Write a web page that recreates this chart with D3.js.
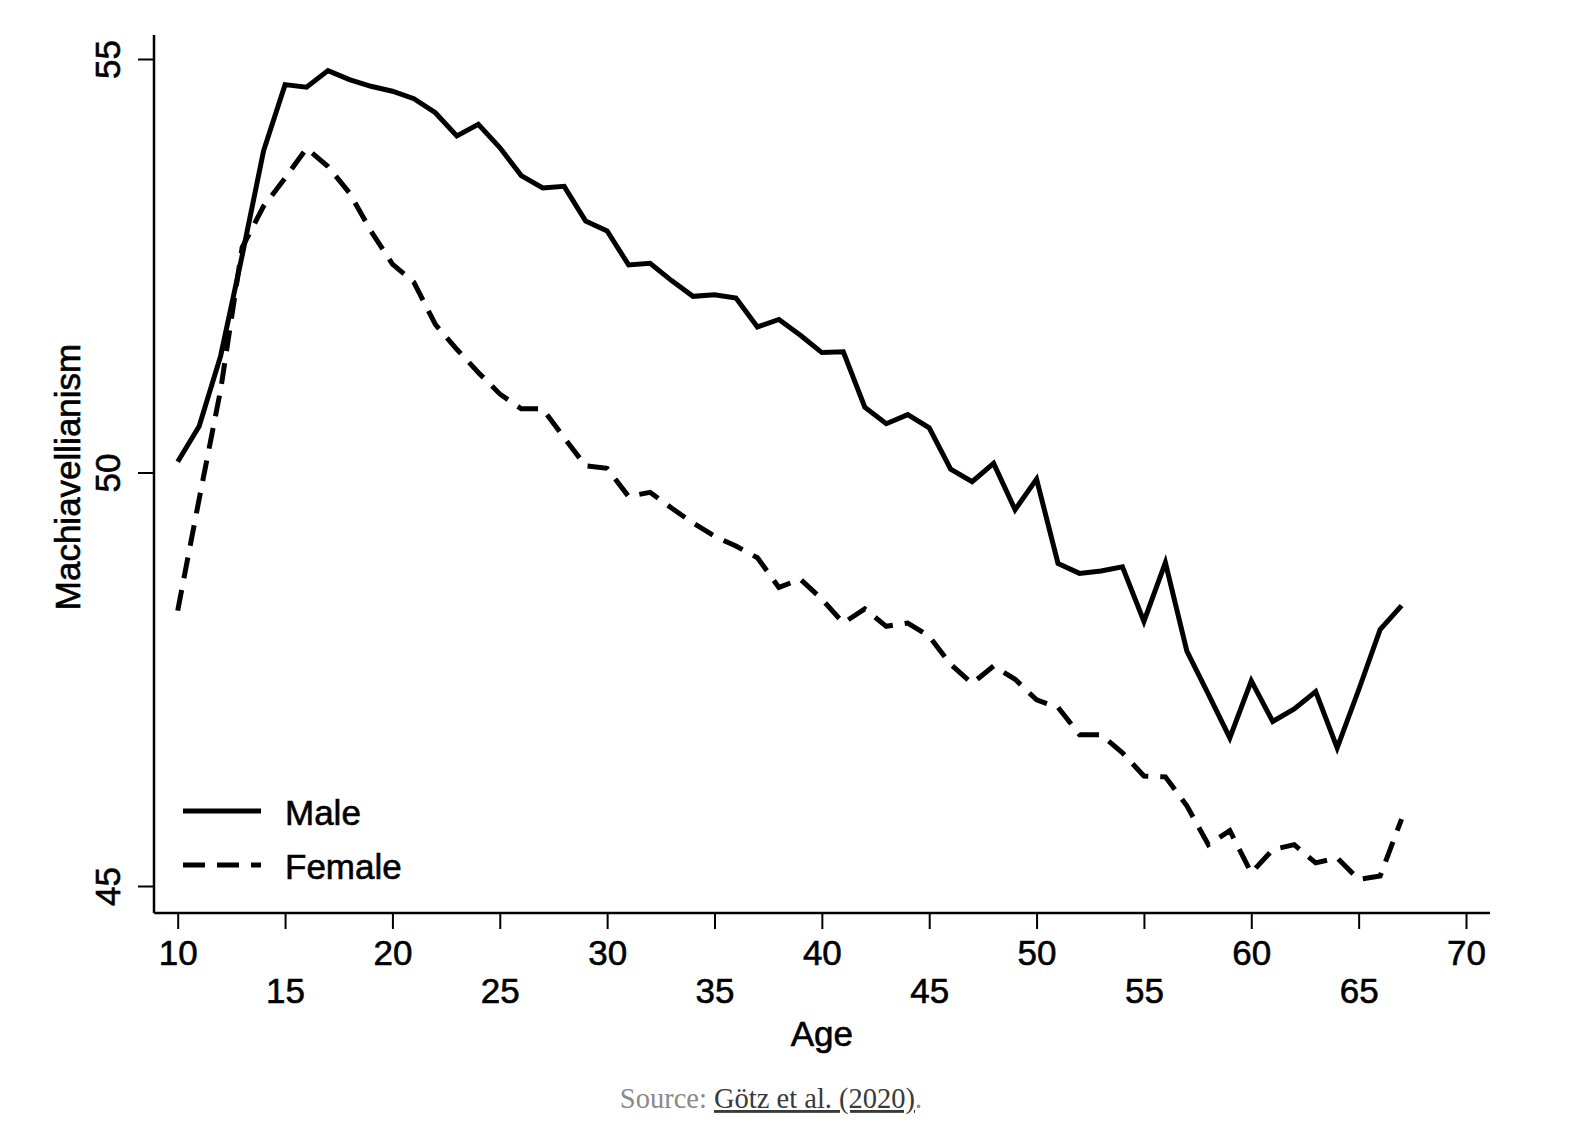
<!DOCTYPE html>
<html>
<head>
<meta charset="utf-8">
<script src="https://cdn.jsdelivr.net/npm/d3@7"></script>
<style>
  body { margin: 0; background: #fff; }
  text { font-family: "Liberation Sans", Arial, sans-serif; }
  .lab { stroke: #000; stroke-width: 0.6px; }
  .source { font-family: "Liberation Serif", "DejaVu Serif", serif; }
</style>
</head>
<body>
<div id="chart"></div>
<script>
// Data: one point per year of age
var ages = d3.range(10, 68);
var male = [50.13, 50.56, 51.41, 52.62, 53.89, 54.69, 54.66, 54.86, 54.75, 54.67,
            54.61, 54.52, 54.35, 54.07, 54.21, 53.93, 53.59, 53.44, 53.46, 53.04,
            52.92, 52.51, 52.53, 52.32, 52.13, 52.15, 52.11, 51.76, 51.85, 51.66,
            51.45, 51.46, 50.79, 50.59, 50.70, 50.54, 50.04, 49.89, 50.11, 49.55,
            49.92, 48.90, 48.78, 48.81, 48.86, 48.20, 48.91, 47.84, 47.32, 46.79,
            47.48, 46.99, 47.14, 47.35, 46.67, 47.37, 48.10, 48.39];
var female = [48.33, 49.68, 51.00, 52.72, 53.22, 53.56, 53.92, 53.70, 53.38, 52.92,
              52.52, 52.30, 51.79, 51.49, 51.21, 50.95, 50.77, 50.77, 50.42, 50.08,
              50.05, 49.71, 49.76, 49.57, 49.39, 49.23, 49.11, 48.97, 48.61, 48.71,
              48.47, 48.18, 48.35, 48.14, 48.18, 48.02, 47.68, 47.45, 47.66, 47.50,
              47.25, 47.16, 46.83, 46.83, 46.61, 46.33, 46.32, 45.97, 45.50, 45.67,
              45.16, 45.44, 45.50, 45.28, 45.34, 45.08, 45.12, 45.81];
var xTicks = [10, 15, 20, 25, 30, 35, 40, 45, 50, 55, 60, 65, 70];
var yTicks = [45, 50, 55];
var seriesNames = ["Male", "Female"];

var svgWidth = 1572;
var svgHeight = 1136;

// plot frame (axis lines) and scale ranges inside it
var frame = { left: 154, right: 1490, top: 35, bottom: 913 };

var svg = d3.select("#chart")
    .append("svg")
    .attr("width", svgWidth)
    .attr("height", svgHeight);

var x = d3.scaleLinear()
    .domain([10, 70])
    .range([177.7, 1466]);

var y = d3.scaleLinear()
    .domain([45, 55])
    .range([886, 59]);

// Axes
var bottomAxis = d3.axisBottom(x)
    .tickValues(xTicks)
    .tickSize(16)
    .tickSizeOuter(0)
    .tickFormat(d3.format("d"));

var leftAxis = d3.axisLeft(y)
    .tickValues(yTicks)
    .tickSize(16)
    .tickSizeOuter(0)
    .tickFormat("");

var xAxisG = svg.append("g")
    .attr("transform", `translate(0, ${frame.bottom})`)
    .call(bottomAxis);
xAxisG.select(".domain").remove();
xAxisG.selectAll(".tick line").attr("stroke", "#000").attr("stroke-width", 2);
xAxisG.selectAll(".tick text")
    .classed("lab", true)
    .attr("font-size", "35px")
    .attr("font-family", "Liberation Sans, Arial, sans-serif")
    .attr("fill", "#000")
    .attr("dy", null)
    .attr("y", (d, i) => i % 2 === 0 ? 52 : 90);

var yAxisG = svg.append("g")
    .attr("transform", `translate(${frame.left}, 0)`)
    .call(leftAxis);
yAxisG.select(".domain").remove();
yAxisG.selectAll(".tick line").attr("stroke", "#000").attr("stroke-width", 2);
yAxisG.selectAll(".tick")
    .append("text")
    .classed("lab", true)
    .attr("transform", "translate(-34, 0) rotate(-90)")
    .attr("text-anchor", "middle")
    .attr("font-size", "35px")
    .attr("fill", "#000")
    .text(d => d);

// axis lines
svg.append("line")
    .attr("x1", frame.left).attr("x2", frame.right)
    .attr("y1", frame.bottom).attr("y2", frame.bottom)
    .attr("stroke", "#000").attr("stroke-width", 2.5);
svg.append("line")
    .attr("x1", frame.left).attr("x2", frame.left)
    .attr("y1", frame.top).attr("y2", frame.bottom)
    .attr("stroke", "#000").attr("stroke-width", 2.5);

// Axis titles
svg.append("text")
    .classed("lab", true)
    .attr("transform", "translate(80, 477) rotate(-90)")
    .attr("text-anchor", "middle")
    .attr("font-size", "35px")
    .text("Machiavellianism");

svg.append("text")
    .classed("lab", true)
    .attr("x", x(40))
    .attr("y", 1046)
    .attr("text-anchor", "middle")
    .attr("font-size", "35px")
    .text("Age");

// Lines
var line = d3.line()
    .x((d, i) => x(ages[i]))
    .y(d => y(d));

svg.append("path")
    .datum(male)
    .attr("fill", "none")
    .attr("stroke", "#000")
    .attr("stroke-width", 5)
    .attr("d", line);

svg.append("path")
    .datum(female)
    .attr("fill", "none")
    .attr("stroke", "#000")
    .attr("stroke-width", 5)
    .attr("stroke-dasharray", "21,12")
    .attr("d", line);

// Legend
var legend = svg.append("g");
var legendRows = legend.selectAll("g")
    .data(seriesNames)
    .enter()
    .append("g")
    .attr("transform", (d, i) => `translate(183, ${811 + i * 54})`);

legendRows.append("line")
    .attr("x1", 0).attr("x2", 78)
    .attr("stroke", "#000")
    .attr("stroke-width", 5)
    .attr("stroke-dasharray", (d, i) => i === 0 ? null : "22,12");

legendRows.append("text")
    .classed("lab", true)
    .attr("x", 102)
    .attr("y", 14)
    .attr("font-size", "35px")
    .text(d => d);

// Source note
var source = svg.append("text")
    .attr("class", "source")
    .attr("x", 771)
    .attr("y", 1108)
    .attr("text-anchor", "middle")
    .attr("font-size", "28.5px")
    .attr("fill", "#8a8a8a");
source.append("tspan").text("Source: ");
source.append("tspan")
    .attr("fill", "#3a3a3a")
    .attr("text-decoration", "underline")
    .text("Götz et al. (2020)");
source.append("tspan").text(".");
</script>
</body>
</html>
